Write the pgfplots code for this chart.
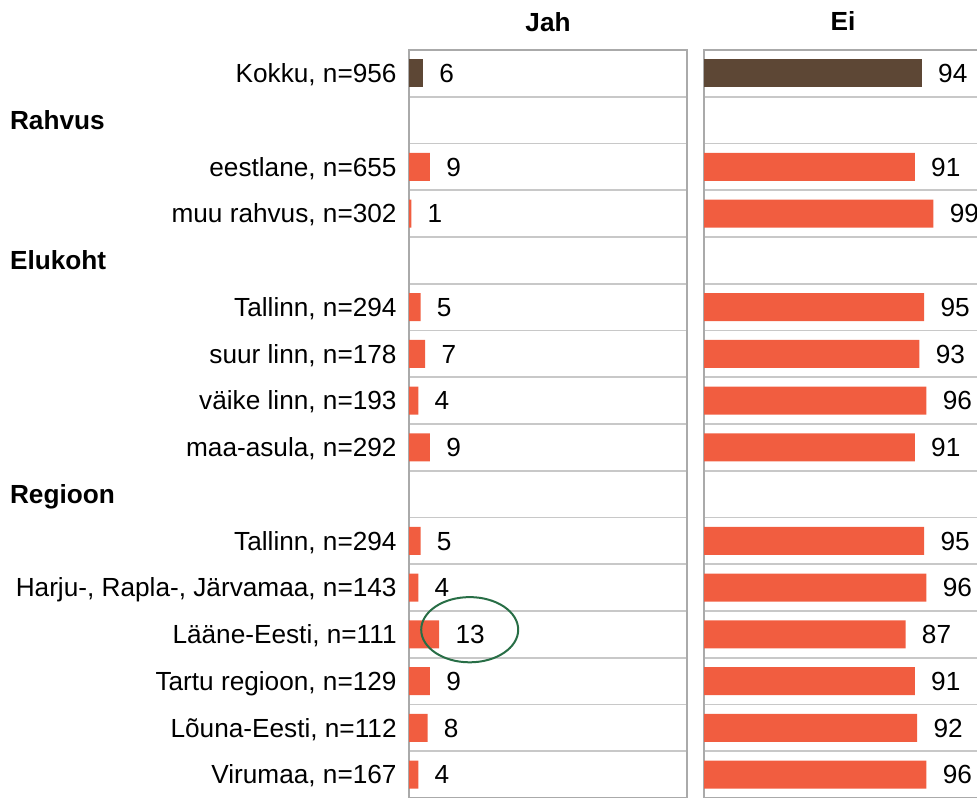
\documentclass[border=0pt]{standalone}
\usepackage{fontspec}
\setmainfont{Liberation Sans}
\usepackage{pgfplots}
\pgfplotsset{compat=1.18}
\definecolor{brownbar}{RGB}{93,71,53}
\definecolor{orangebar}{RGB}{241,93,64}
\definecolor{gridgray}{RGB}{200,200,200}
\definecolor{axgray}{RGB}{170,170,170}
\definecolor{ellgreen}{RGB}{40,110,70}
\begin{document}
\begin{tikzpicture}[font=\fontsize{13.1}{15}\selectfont]
\useasboundingbox (0,0) rectangle (488.5pt,-398.5pt);
\clip (0,0) rectangle (488.5pt,-398.5pt);
\pgfplotsset{panel/.style={
  xbar, bar width=14pt, bar shift=0pt,
  scale only axis, width=139pt, height=374pt,
  xmin=0, xmax=120, ymin=-0.5, ymax=15.5, y dir=reverse,
  axis line style={axgray, line width=1pt},
  xtick=\empty,
  ytick={0,...,15},
  minor ytick={0.5,1.5,...,14.5},
  yminorgrids, minor grid style={gridgray, line width=0.8pt},
  major tick length=0pt, minor tick length=0pt,
  nodes near coords,
  nodes near coords style={anchor=base west, inner sep=0pt, xshift=8pt, yshift=-4.65pt, font=\fontsize{13.1}{15}\selectfont, text=black},
  /pgf/number format/assume math mode=true,
  clip=false,
}}
\begin{axis}[panel, at={(204.5pt,-25pt)}, anchor=north west,
  yticklabels={{Kokku, n=956},{},{eestlane, n=655},{muu rahvus, n=302},{},{Tallinn, n=294},{suur linn, n=178},{väike linn, n=193},{maa-asula, n=292},{},{Tallinn, n=294},{Harju-, Rapla-, Järvamaa, n=143},{Lääne-Eesti, n=111},{Tartu regioon, n=129},{Lõuna-Eesti, n=112},{Virumaa, n=167}},
  yticklabel style={anchor=base east, inner sep=0pt, xshift=-6pt, yshift=-4.65pt, font=\fontsize{13.1}{15}\selectfont}]
\addplot[fill=brownbar, draw=none] coordinates {(6,0)};
\addplot[fill=orangebar, draw=none] coordinates {(9,2) (1,3) (5,5) (7,6) (4,7) (9,8) (5,10) (4,11) (13,12) (9,13) (8,14) (4,15)};
\draw[ellgreen, line width=1pt] (axis cs:26.2,11.9) ellipse [x radius=24.25pt, y radius=16.3pt];
\end{axis}
\begin{axis}[panel, at={(352pt,-25pt)}, anchor=north west, yticklabels={}]
\addplot[fill=brownbar, draw=none] coordinates {(94,0)};
\addplot[fill=orangebar, draw=none] coordinates {(91,2) (99,3) (95,5) (93,6) (96,7) (91,8) (95,10) (96,11) (87,12) (91,13) (92,14) (96,15)};
\end{axis}
\node[anchor=base west, font=\fontsize{13.1}{15}\selectfont\bfseries] at (1.5pt,-64.71pt) {Rahvus};
\node[anchor=base west, font=\fontsize{13.1}{15}\selectfont\bfseries] at (1.5pt,-134.84pt) {Elukoht};
\node[anchor=base west, font=\fontsize{13.1}{15}\selectfont\bfseries] at (1.5pt,-251.71pt) {Regioon};
\node[anchor=base, font=\fontsize{13.1}{15}\selectfont\bfseries] at (274pt,-16pt) {Jah};
\node[anchor=base, font=\fontsize{13.1}{15}\selectfont\bfseries] at (421.5pt,-15.5pt) {Ei};
\end{tikzpicture}
\end{document}
